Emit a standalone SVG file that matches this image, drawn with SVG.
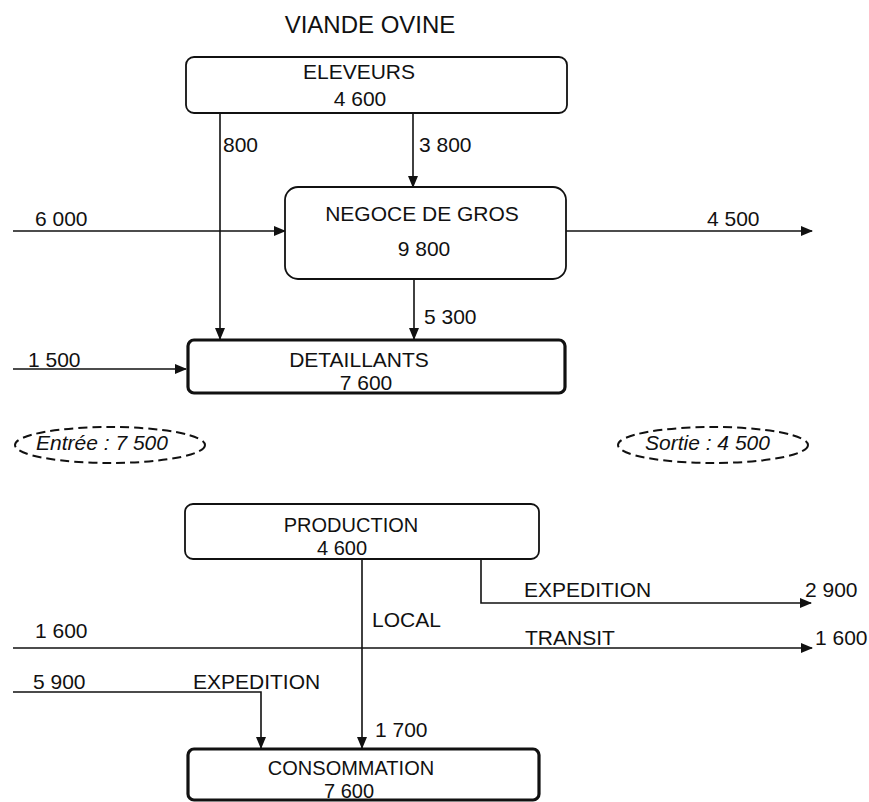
<svg xmlns="http://www.w3.org/2000/svg" width="869" height="802" viewBox="0 0 869 802">
  <defs>
    <marker id="arrow" markerUnits="userSpaceOnUse" markerWidth="12" markerHeight="10" refX="11" refY="5" orient="auto">
      <path d="M0,0 L12,5 L0,10 z" fill="#111"/>
    </marker>
    <style>
      text { font-family: "Liberation Sans", Arial, sans-serif; font-size: 21px; fill: #111; }
      .title { font-size: 24px; }
      .mid { text-anchor: middle; }
      .it { font-style: italic; }
      .tight { font-size: 20px; }
      .box { fill: #fff; stroke: #111; stroke-width: 1.8; }
      .thick { fill: #fff; stroke: #111; stroke-width: 3.2; }
      .flow { fill: none; stroke: #111; stroke-width: 1.6; }
      .arr { marker-end: url(#arrow); }
      .bubble { fill: none; stroke: #111; stroke-width: 2; stroke-dasharray: 9 5; }
    </style>
  </defs>
  <rect width="869" height="802" fill="#fff"/>

  <text class="title mid" x="370" y="33">VIANDE OVINE</text>

  <!-- flows -->
  <g id="connectors">
    <path class="flow arr" d="M220,113 V339"/>
    <path class="flow arr" d="M413,113 V187"/>
    <path class="flow arr" d="M13,231 H285"/>
    <path class="flow arr" d="M566,231 H812"/>
    <path class="flow arr" d="M414,279 V339"/>
    <path class="flow arr" d="M13,369 H186"/>

    <path class="flow arr" d="M362,559 V748"/>
    <path class="flow arr" d="M481,559 V603 H811"/>
    <path class="flow arr" d="M13,648 H812"/>
    <path class="flow arr" d="M13,692 H261 V748"/>
  </g>

  <g id="flow-labels">
    <text x="223" y="152">800</text>
    <text x="419" y="152">3 800</text>
    <text x="35" y="226">6 000</text>
    <text x="707" y="226">4 500</text>
    <text x="424" y="324">5 300</text>
    <text x="28" y="367">1 500</text>

    <text x="524" y="597">EXPEDITION</text>
    <text x="805" y="597">2 900</text>
    <text x="372" y="627">LOCAL</text>
    <text x="35" y="638">1 600</text>
    <text x="525" y="645">TRANSIT</text>
    <text x="815" y="645">1 600</text>
    <text x="33" y="689">5 900</text>
    <text x="193" y="689">EXPEDITION</text>
    <text x="375" y="737">1 700</text>
  </g>

  <g id="eleveurs">
    <rect class="box" x="186" y="57" width="381" height="56" rx="8"/>
    <text class="mid" x="359" y="79">ELEVEURS</text>
    <text class="mid" x="360" y="106">4 600</text>
  </g>

  <g id="negoce">
    <rect class="box" x="285" y="187" width="281" height="92" rx="13"/>
    <text class="mid" x="422" y="221">NEGOCE DE GROS</text>
    <text class="mid" x="424" y="256">9 800</text>
  </g>

  <g id="detaillants">
    <rect class="thick" x="188" y="340" width="377" height="53" rx="6"/>
    <text class="mid" x="359" y="367">DETAILLANTS</text>
    <text class="mid" x="366" y="390">7 600</text>
  </g>

  <g id="entree">
    <ellipse class="bubble" cx="110" cy="445" rx="95" ry="18"/>
    <text class="it" x="36" y="450">Entrée : 7 500</text>
  </g>

  <g id="sortie">
    <ellipse class="bubble" cx="713" cy="445" rx="95" ry="18"/>
    <text class="it" x="645" y="450">Sortie : 4 500</text>
  </g>

  <g id="production">
    <rect class="box" x="185" y="504" width="354" height="55" rx="8"/>
    <text class="mid tight" x="351" y="532">PRODUCTION</text>
    <text class="mid tight" x="342" y="555">4 600</text>
  </g>

  <g id="consommation">
    <rect class="thick" x="188" y="749" width="351" height="51" rx="6"/>
    <text class="mid tight" x="351" y="775">CONSOMMATION</text>
    <text class="mid tight" x="349" y="798">7 600</text>
  </g>
</svg>
